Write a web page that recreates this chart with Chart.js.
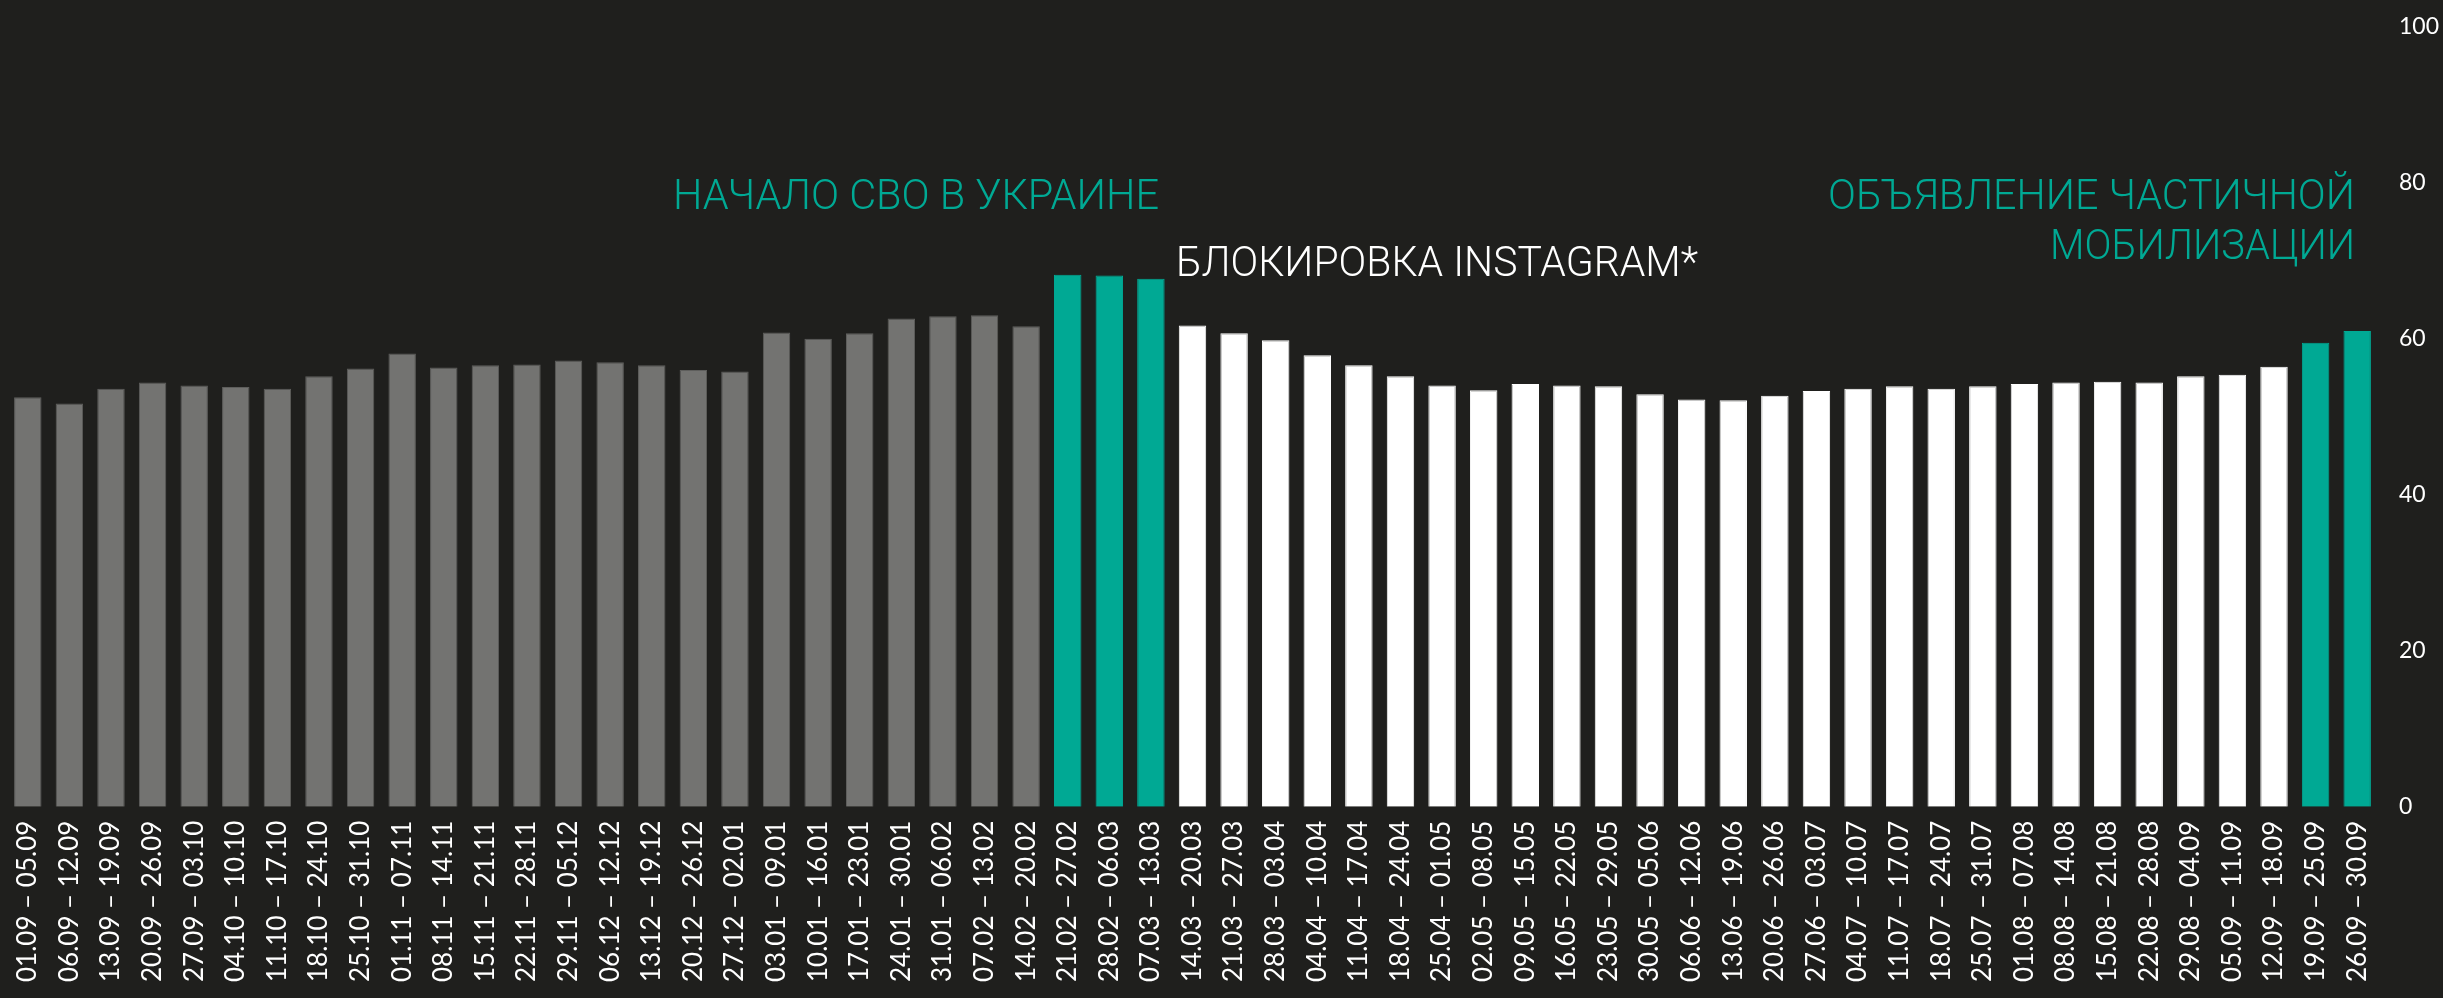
<!DOCTYPE html>
<html>
<head>
<meta charset="utf-8">
<script src="https://cdn.jsdelivr.net/npm/chart.js@4.4.1/dist/chart.umd.min.js"></script>
<style>
  html, body { margin: 0; padding: 0; background: #1f1f1d; }
  canvas { display: block; }
</style>
</head>
<body>
<canvas id="myChart" width="2443" height="998"></canvas>
<script>
const periods = [
  "01.09 – 05.09", "06.09 – 12.09", "13.09 – 19.09", "20.09 – 26.09", "27.09 – 03.10",
  "04.10 – 10.10", "11.10 – 17.10", "18.10 – 24.10", "25.10 – 31.10", "01.11 – 07.11",
  "08.11 – 14.11", "15.11 – 21.11", "22.11 – 28.11", "29.11 – 05.12", "06.12 – 12.12",
  "13.12 – 19.12", "20.12 – 26.12", "27.12 – 02.01", "03.01 – 09.01", "10.01 – 16.01",
  "17.01 – 23.01", "24.01 – 30.01", "31.01 – 06.02", "07.02 – 13.02", "14.02 – 20.02",
  "21.02 – 27.02", "28.02 – 06.03", "07.03 – 13.03", "14.03 – 20.03", "21.03 – 27.03",
  "28.03 – 03.04", "04.04 – 10.04", "11.04 – 17.04", "18.04 – 24.04", "25.04 – 01.05",
  "02.05 – 08.05", "09.05 – 15.05", "16.05 – 22.05", "23.05 – 29.05", "30.05 – 05.06",
  "06.06 – 12.06", "13.06 – 19.06", "20.06 – 26.06", "27.06 – 03.07", "04.07 – 10.07",
  "11.07 – 17.07", "18.07 – 24.07", "25.07 – 31.07", "01.08 – 07.08", "08.08 – 14.08",
  "15.08 – 21.08", "22.08 – 28.08", "29.08 – 04.09", "05.09 – 11.09", "12.09 – 18.09",
  "19.09 – 25.09", "26.09 – 30.09"
];

const values = [
  52.5, 51.7, 53.6, 54.4, 54.0, 53.8, 53.6, 55.2, 56.2, 58.1,
  56.3, 56.6, 56.7, 57.2, 57.0, 56.6, 56.0, 55.8, 60.8, 60.0,
  60.7, 62.6, 62.9, 63.0, 61.6, 68.2, 68.1, 67.7, 61.7, 60.7,
  59.8, 57.9, 56.6, 55.2, 54.0, 53.4, 54.2, 54.0, 53.9, 52.9,
  52.2, 52.1, 52.7, 53.3, 53.6, 53.9, 53.6, 53.9, 54.2, 54.4,
  54.5, 54.4, 55.2, 55.4, 56.4, 59.5, 61.0
];

// weeks of key events (teal), the rest: grey before, white after
const eventWeeks = ["21.02 – 27.02", "28.02 – 06.03", "07.03 – 13.03", "19.09 – 25.09", "26.09 – 30.09"];
const yTicks = [0, 20, 40, 60, 80, 100];

const teal = "#00a994";
const grey = "#737371";
const white = "#ffffff";

const firstEvent = periods.indexOf(eventWeeks[0]);
const barColors = periods.map((p, i) => {
  if (eventWeeks.includes(p)) return teal;
  return i < firstEvent ? grey : white;
});
const borderColors = barColors.map((c) => (c === grey ? "#5e5e5c" : c));

const notes = [
  { lines: ["НАЧАЛО СВО В УКРАИНЕ"], color: teal, x: 1159, y: 209, align: "right", widths: [486] },
  { lines: ["БЛОКИРОВКА INSTAGRAM*"], color: white, x: 1176, y: 276, align: "left", widths: [522] },
  { lines: ["ОБЪЯВЛЕНИЕ ЧАСТИЧНОЙ", "МОБИЛИЗАЦИИ"], color: teal, x: 2355, y: 209, align: "right", widths: [527, 305] },
];

const notesPlugin = {
  id: "notes",
  afterDraw(chart) {
    const ctx = chart.ctx;
    ctx.save();
    ctx.font = "300 42px Roboto";
    ctx.textBaseline = "alphabetic";
    notes.forEach((n) => {
      ctx.fillStyle = n.color;
      n.lines.forEach((line, k) => {
        const w = ctx.measureText(line).width;
        const sx = n.widths[k] / w;
        const y = n.y + k * 50;
        ctx.save();
        ctx.translate(n.x, y);
        ctx.scale(sx, 1);
        ctx.textAlign = n.align;
        ctx.fillText(line, 0, 0);
        ctx.restore();
      });
    });
    ctx.restore();
  },
};

const bgPlugin = {
  id: "bg",
  beforeDraw(chart) {
    const ctx = chart.ctx;
    ctx.save();
    ctx.fillStyle = "#1f1f1d";
    ctx.fillRect(0, 0, chart.width, chart.height);
    ctx.restore();
  },
};

function createChart() {
  const data = {
    labels: periods,
    datasets: [
      {
        data: values,
        backgroundColor: barColors,
        borderColor: borderColors,
        borderWidth: { top: 1, left: 1, right: 1, bottom: 0 },
        categoryPercentage: 1,
        barPercentage: 0.66,
      },
    ],
  };

  const config = {
    type: "bar",
    data,
    options: {
      responsive: false,
      animation: false,
      layout: { padding: { top: -6, left: 7, right: 0, bottom: 10 } },
      plugins: { legend: { display: false }, tooltip: { enabled: false } },
      scales: {
        x: {
          grid: { display: false },
          border: { display: false },
          ticks: {
            color: "#ffffff",
            font: { family: "Lato", size: 26 },
            minRotation: 90,
            maxRotation: 90,
            autoSkip: false,
            padding: 6,
          },
        },
        y: {
          position: "right",
          min: 0,
          max: 100,
          afterBuildTicks: (axis) => {
            axis.ticks = yTicks.map((v) => ({ value: v }));
          },
          afterFit: (axis) => {
            axis.width = 65;
          },
          grid: { display: false },
          border: { display: false },
          ticks: {
            color: "#ffffff",
            font: { family: "Lato", size: 23 },
            padding: 13,
          },
        },
      },
    },
    plugins: [bgPlugin, notesPlugin],
  };
  return new Chart(document.getElementById("myChart"), config);
}

createChart();
</script>
</body>
</html>
